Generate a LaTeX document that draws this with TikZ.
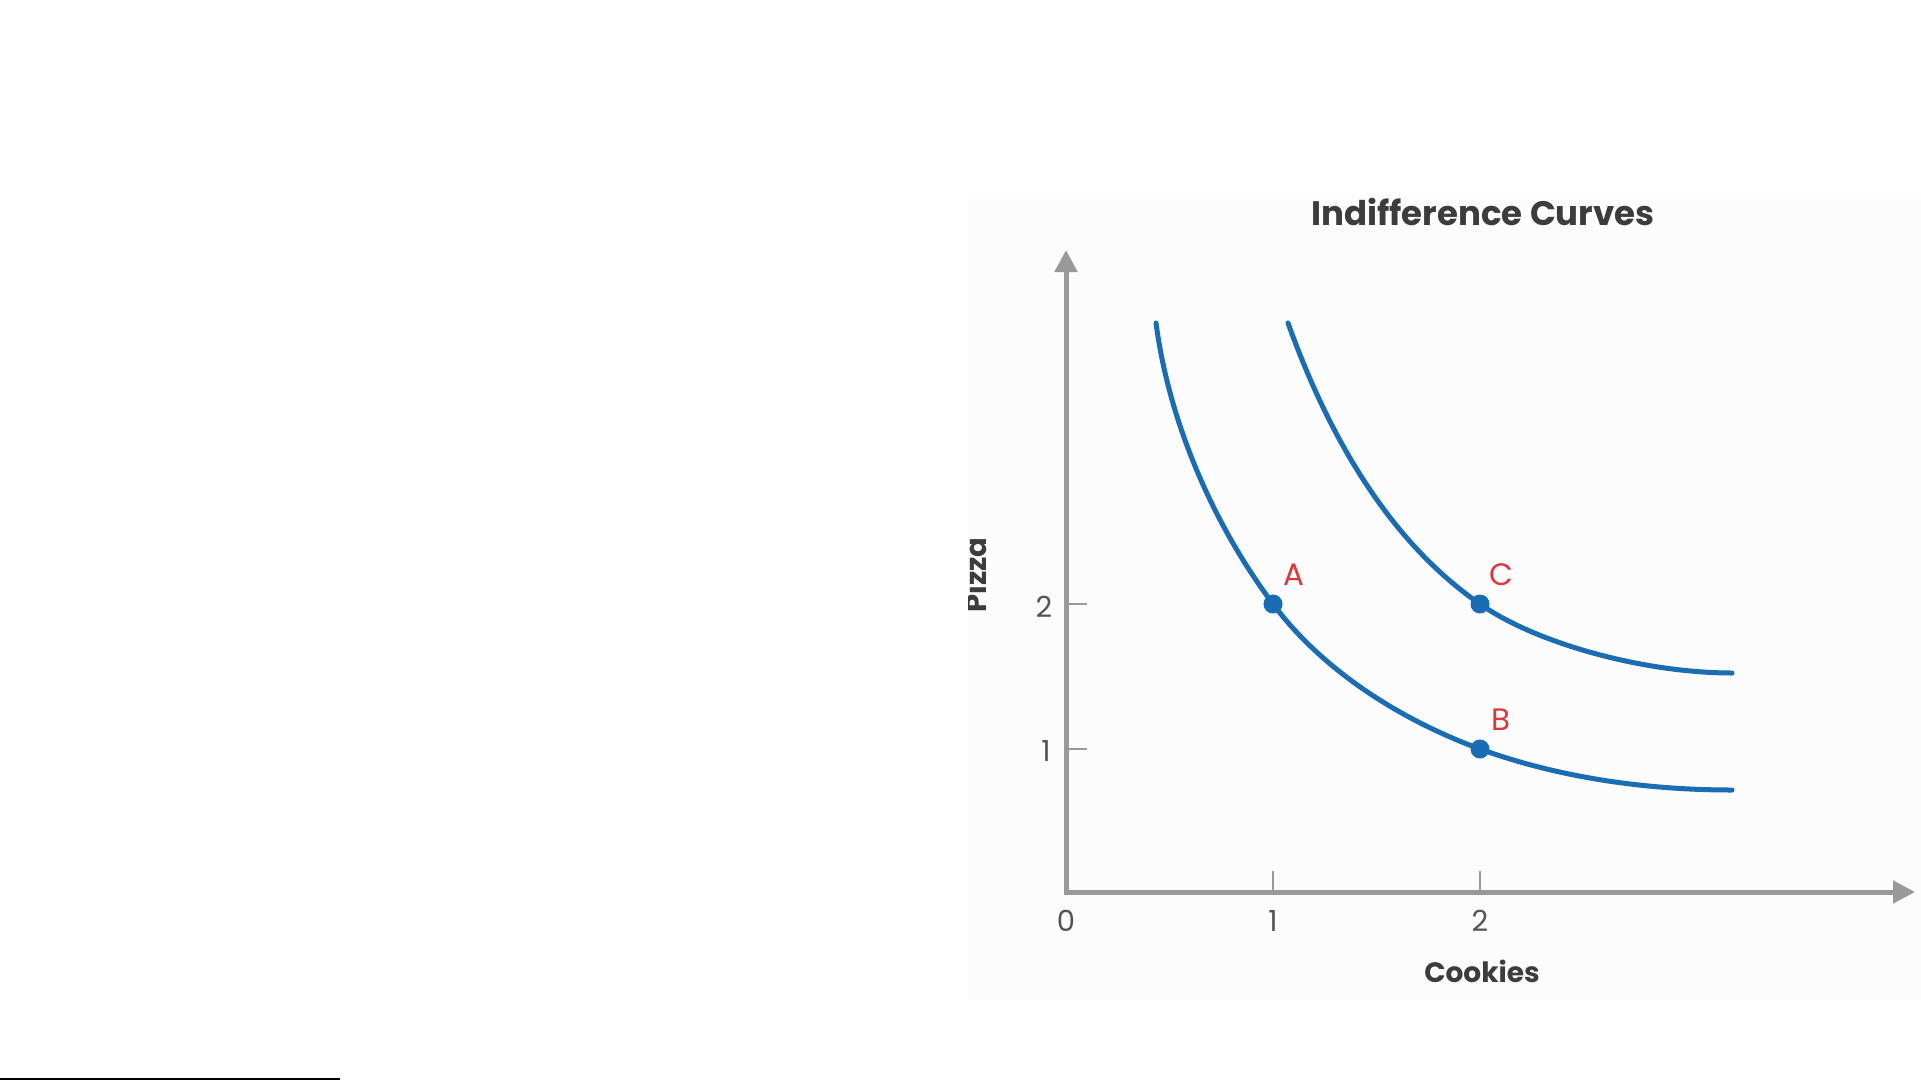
\documentclass[tikz,border=0pt]{standalone}
\usepackage{fontspec}
\setmainfont{Poppins}
\usetikzlibrary{arrows.meta}
\definecolor{curveblue}{HTML}{1A6DB3}
\definecolor{labelred}{HTML}{D9383F}
\definecolor{axisgray}{HTML}{999999}
\definecolor{textdark}{HTML}{3C3C3C}
\definecolor{ticktext}{HTML}{555555}
\definecolor{panel}{HTML}{FCFCFC}
\begin{document}
\begin{tikzpicture}[x=1pt,y=-1pt,
  axisline/.style={draw=axisgray, line width=5pt, line join=miter,
    {Triangle[length=22pt,width=22pt]}-{Triangle[length=22pt,width=22pt]}},
  tickmark/.style={draw=axisgray, line width=2.5pt},
  icurve/.style={draw=curveblue, line width=5pt, line cap=round},
  dot/.style={circle, fill=curveblue, inner sep=0pt, minimum size=19pt},
  ptlabel/.style={text=labelred, font=\fontsize{31}{31}\selectfont, inner sep=0pt},
  ticklabel/.style={text=ticktext, font=\fontsize{29}{29}\selectfont, inner sep=0pt},
  axlabel/.style={text=textdark, font=\bfseries\fontsize{28}{28}\selectfont, inner sep=0pt}]
\useasboundingbox (0,0) rectangle (1921,1081);
\fill[white] (0,0) rectangle (1921,1081);
\fill[panel] (968,195) rectangle (1921,1000);
% title
\node[text=textdark, font=\bfseries\fontsize{34}{34}\selectfont, inner sep=0pt] (title) at (1483,212) {Indifference Curves};
% axes
\coordinate (O) at (1066,892);
\coordinate (ytop) at (1066,250);
\coordinate (xend) at (1915,892);
\draw[axisline] (ytop) -- (O) -- (xend);
% ticks
\coordinate (xt1) at (1273,892);
\coordinate (xt2) at (1480,892);
\coordinate (yt1) at (1066,749);
\coordinate (yt2) at (1066,604);
\draw[tickmark] (xt1) -- ++(0,-21);
\draw[tickmark] (xt2) -- ++(0,-21);
\draw[tickmark] (yt1) -- ++(21,0);
\draw[tickmark] (yt2) -- ++(21,0);
% tick labels
\node[ticklabel] (l0) at (1066,921) {0};
\node[ticklabel] (lx1) at (1273,921) {1};
\node[ticklabel] (lx2) at (1480,921) {2};
\node[ticklabel] (ly1) at (1046,751) {1};
\node[ticklabel] (ly2) at (1044,607) {2};
% axis labels
\node[axlabel] (xlab) at (1482,971) {Cookies};
\begin{scope}
  \clip (968,0) rectangle (1921,1081);
  \node[axlabel, font=\bfseries\fontsize{29}{29}\selectfont, rotate=90, anchor=base] (ylab) at (986,575) {Pizza};
\end{scope}
% curve anchor points
\coordinate (top1) at (1156,323);
\coordinate (end1) at (1732,790);
\coordinate (top2) at (1288,323);
\coordinate (end2) at (1732,673);
\coordinate (pA) at (1273,604);
\coordinate (pB) at (1480,749);
\coordinate (pC) at (1480,604);
% indifference curves
\draw[icurve] (top1) .. controls (1169,422) and (1213,524) .. (pA)
  .. controls (1323,671) and (1401,720) .. (pB)
  .. controls (1560,778) and (1647,790) .. (end1);
\draw[icurve] (top2) .. controls (1327,432) and (1387,540) .. (pC)
  .. controls (1537,644) and (1645,673) .. (end2);
% points
\node[dot] (A) at (pA) {};
\node[dot] (B) at (pB) {};
\node[dot] (C) at (pC) {};
\node[ptlabel] (lA) at (1294,575) {A};
\node[ptlabel] (lC) at (1501,575) {C};
\node[ptlabel] (lB) at (1501,720) {B};
% bottom-left rule
\draw[black, line width=2pt] (0,1079) -- (340,1079);
\end{tikzpicture}
\end{document}
